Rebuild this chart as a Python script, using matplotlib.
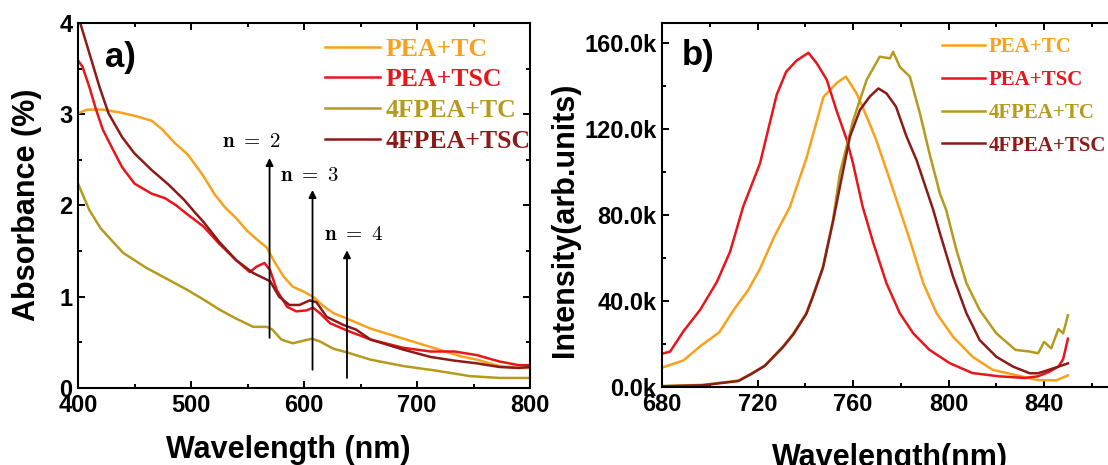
import matplotlib
matplotlib.use("Agg")
import matplotlib.pyplot as plt
from matplotlib.ticker import MultipleLocator, FuncFormatter

plt.rcParams['font.family'] = ['Liberation Sans', 'DejaVu Sans']
plt.rcParams['mathtext.fontset'] = 'cm'

labels = ['PEA+TC', 'PEA+TSC', '4FPEA+TC', '4FPEA+TSC']
colors = ['#F9A11B', '#E8151B', '#B59A1E', '#8C1B17']

# absorbance spectra (nm, %)
abs_wl_tc = [400, 408, 422, 437, 451, 465, 474, 486, 497, 510, 521, 530, 540, 549, 558, 567, 573,
             582, 590, 599, 608, 617, 626, 638, 659, 688, 717, 738, 753, 773, 790, 800]
abs_tc = [3.01, 3.05, 3.05, 3.02, 2.98, 2.93, 2.84, 2.68, 2.56, 2.34, 2.12, 1.98, 1.86, 1.73, 1.63,
          1.54, 1.40, 1.22, 1.11, 1.06, 1.00, 0.90, 0.82, 0.76, 0.65, 0.54, 0.43, 0.35, 0.31, 0.24,
          0.22, 0.22]
abs_wl_tsc = [400, 404, 410, 416, 422, 431, 439, 450, 465, 477, 487, 496, 511, 525, 540, 552, 558,
              565, 570, 576, 585, 593, 602, 608, 614, 623, 638, 659, 688, 712, 733, 753, 773, 790, 800]
abs_tsc = [3.59, 3.52, 3.30, 3.05, 2.83, 2.61, 2.42, 2.24, 2.13, 2.08, 2.00, 1.91, 1.77, 1.58, 1.40,
           1.27, 1.33, 1.37, 1.29, 1.07, 0.89, 0.84, 0.85, 0.88, 0.82, 0.71, 0.63, 0.53, 0.44, 0.40,
           0.40, 0.36, 0.29, 0.25, 0.25]
abs_wl_ftc = [400, 410, 420, 440, 460, 481, 496, 511, 525, 540, 555, 567, 572, 580, 590, 600, 607,
              614, 626, 638, 659, 688, 717, 747, 773, 800]
abs_ftc = [2.24, 1.95, 1.75, 1.48, 1.32, 1.18, 1.08, 0.97, 0.86, 0.76, 0.67, 0.67, 0.64, 0.53, 0.49,
           0.52, 0.54, 0.51, 0.43, 0.39, 0.31, 0.24, 0.19, 0.13, 0.11, 0.11]
abs_wl_ftsc = [400, 410, 419, 427, 439, 450, 465, 480, 494, 503, 511, 525, 540, 555, 570, 578, 587,
               596, 605, 611, 620, 635, 646, 659, 688, 712, 733, 753, 773, 790, 800]
abs_ftsc = [4.08, 3.67, 3.30, 3.01, 2.75, 2.57, 2.39, 2.23, 2.06, 1.93, 1.82, 1.60, 1.40, 1.26, 1.17,
            1.00, 0.91, 0.91, 0.96, 0.94, 0.78, 0.69, 0.64, 0.53, 0.42, 0.34, 0.30, 0.27, 0.23, 0.22,
            0.23]

# excitonic peaks: label, wavelength, arrow bottom, arrow top
peak_names = ['n = 2', 'n = 3', 'n = 4']
peak_wl = [569.5, 607.5, 638]
peak_lo = [0.55, 0.20, 0.11]
peak_hi = [2.52, 2.17, 1.51]
peak_text_xy = [(553.5, 2.70), (605, 2.33), (644, 1.68)]

# photoluminescence spectra (nm, counts in k)
pl_wl_tc = [680, 689, 696, 704, 710, 716, 721, 727, 733.6, 740.6, 747.6, 753, 757, 761.5, 765.7,
            769.7, 774, 778, 783.8, 789.4, 795, 801.9, 810, 818.5, 828, 837.5, 845, 850]
pl_tc = [9, 12.4, 19, 25.5, 35.9, 45, 55, 70, 84, 107, 135, 141.4, 144.5, 136.7, 125.9, 115, 101,
         87.8, 68.4, 48.3, 34.3, 23.4, 14.1, 8, 5.6, 3.2, 3.1, 5.4]
pl_wl_tsc = [680, 683.4, 689, 696, 703, 708.5, 714, 721, 728, 732, 736.4, 741.3, 744.8, 749, 753,
             757.4, 760, 764, 768.5, 774, 779.6, 785.2, 792, 800.5, 810, 821, 832, 837.5, 842, 846,
             848, 850]
pl_tsc = [15.5, 16.5, 26, 36, 49, 63, 84, 104, 136, 146.8, 152, 155.6, 150.7, 143, 129, 115, 104,
          84, 67, 48.3, 34.3, 25, 17.3, 11.1, 6.5, 5, 4.2, 5, 7, 9.5, 13, 22.5]
pl_wl_ftc = [680, 697, 712, 717, 723, 730.6, 735, 740.4, 743, 747.4, 751.6, 754.5, 760, 765.7,
             771.2, 775.4, 776.8, 779.6, 783.8, 788, 792, 796.4, 799, 803.3, 807.5, 813, 820, 828,
             834, 837.5, 840, 843, 846, 848, 850]
pl_ftc = [0.5, 1, 3, 6, 10, 18.8, 25, 34.3, 42, 56, 77.7, 99.5, 124, 143, 153.8, 153, 156, 149,
          144.5, 127.4, 108.8, 90, 82.4, 63.8, 48.3, 35.9, 25, 17.3, 16.5, 15.7, 21, 18, 27, 25, 33.4]
pl_wl_ftsc = [680, 697, 712, 717, 723, 730.6, 735, 740.4, 743, 747.4, 751.6, 754.5, 758.7, 762.9,
              767, 770.6, 774, 778, 782.4, 786.6, 790.8, 793.6, 796.4, 801.9, 807.5, 813, 820, 827,
              834, 837.5, 842, 846, 850]
pl_ftsc = [0.3, 0.8, 2.8, 5.8, 9.8, 18.5, 24.5, 34, 41.5, 55.5, 77, 93.3, 116.6, 129, 135.2, 139,
           136.7, 130.5, 116.6, 105.6, 91.7, 82.4, 71.5, 51.3, 34.3, 21.9, 14.1, 9.5, 6.4, 6.4, 8,
           9.5, 11]

abs_x = [abs_wl_tc, abs_wl_tsc, abs_wl_ftc, abs_wl_ftsc]
abs_y = [abs_tc, abs_tsc, abs_ftc, abs_ftsc]
pl_x = [pl_wl_tc, pl_wl_tsc, pl_wl_ftc, pl_wl_ftsc]
pl_y = [pl_tc, pl_tsc, pl_ftc, pl_ftsc]

fig = plt.figure(figsize=(11.08, 4.65), dpi=100)
ax1 = fig.add_axes([0.0704, 0.1656, 0.408, 0.785])
# the PL panel runs on past the right edge of the figure
ax2 = fig.add_axes([0.5975, 0.1677, 0.431, 0.783])

legend_font = {'family': 'Liberation Serif', 'weight': 'bold'}


def style_axes(ax):
    for sp in ax.spines.values():
        sp.set_linewidth(1.5)
    ax.tick_params(which='both', direction='in', top=True, right=True, width=1.4)
    ax.tick_params(which='major', length=5, labelsize=17, pad=4)
    ax.tick_params(which='minor', length=3)
    for lab in ax.get_xticklabels() + ax.get_yticklabels():
        lab.set_fontweight('bold')


# a) absorbance
for x, y, c, lab in zip(abs_x, abs_y, colors, labels):
    ax1.plot(x, y, color=c, lw=1.8, label=lab)
ax1.set_xlim(400, 800)
ax1.set_ylim(0, 4)
ax1.xaxis.set_major_locator(MultipleLocator(100))
ax1.xaxis.set_minor_locator(MultipleLocator(50))
ax1.yaxis.set_major_locator(MultipleLocator(1))
ax1.yaxis.set_minor_locator(MultipleLocator(0.5))
style_axes(ax1)
ax1.set_xlabel('Wavelength (nm)', fontsize=22, fontweight='bold')
ax1.set_ylabel('Absorbance (%)', fontsize=22, fontweight='bold')
ax1.xaxis.set_label_coords(0.466, -0.129)
ax1.yaxis.set_label_coords(-0.08, 0.503)
ax1.text(0.06, 0.88, 'a)', transform=ax1.transAxes, fontsize=25, fontweight='bold', va='baseline')

for name, wl, lo, hi, (tx, ty) in zip(peak_names, peak_wl, peak_lo, peak_hi, peak_text_xy):
    ax1.annotate('', xy=(wl, hi), xytext=(wl, lo),
                 arrowprops=dict(arrowstyle='-|>', color='black', lw=1.3,
                                 mutation_scale=11, shrinkA=0, shrinkB=0))
    n = name.split('=')[1].strip()
    ax1.text(tx, ty, r'$\mathbf{n\ =\ ' + n + '}$', fontsize=15, ha='center', va='center')

ax1.legend(loc='upper left', bbox_to_anchor=(0.546, 0.96), frameon=False,
           prop=dict(legend_font, size=18.5), handlelength=2.15, handletextpad=0.2,
           labelspacing=0.3, borderpad=0, borderaxespad=0, labelcolor='linecolor')

# b) photoluminescence
for x, y, c, lab in zip(pl_x, pl_y, colors, labels):
    ax2.plot(x, [v * 1000 for v in y], color=c, lw=1.8, label=lab)
ax2.set_xlim(680, 880)
ax2.set_ylim(0, 169500)
ax2.xaxis.set_major_locator(MultipleLocator(40))
ax2.xaxis.set_minor_locator(MultipleLocator(20))
ax2.yaxis.set_major_locator(MultipleLocator(40000))
ax2.yaxis.set_minor_locator(MultipleLocator(20000))
ax2.yaxis.set_major_formatter(FuncFormatter(lambda v, p: f'{v / 1000:.1f}k'))
style_axes(ax2)
ax2.set_xlabel('Wavelength(nm)', fontsize=22, fontweight='bold')
ax2.set_ylabel('Intensity(arb.units)', fontsize=22, fontweight='bold')
ax2.xaxis.set_label_coords(0.477, -0.154)
ax2.yaxis.set_label_coords(-0.172, 0.46)
ax2.text(0.042, 0.885, 'b)', transform=ax2.transAxes, fontsize=25, fontweight='bold', va='baseline')

ax2.legend(loc='upper left', bbox_to_anchor=(0.586, 0.96), frameon=False,
           prop=dict(legend_font, size=15), handlelength=2.05, handletextpad=0.2,
           labelspacing=0.61, borderpad=0, borderaxespad=0, labelcolor='linecolor')

fig.savefig('out.png', dpi=100)
